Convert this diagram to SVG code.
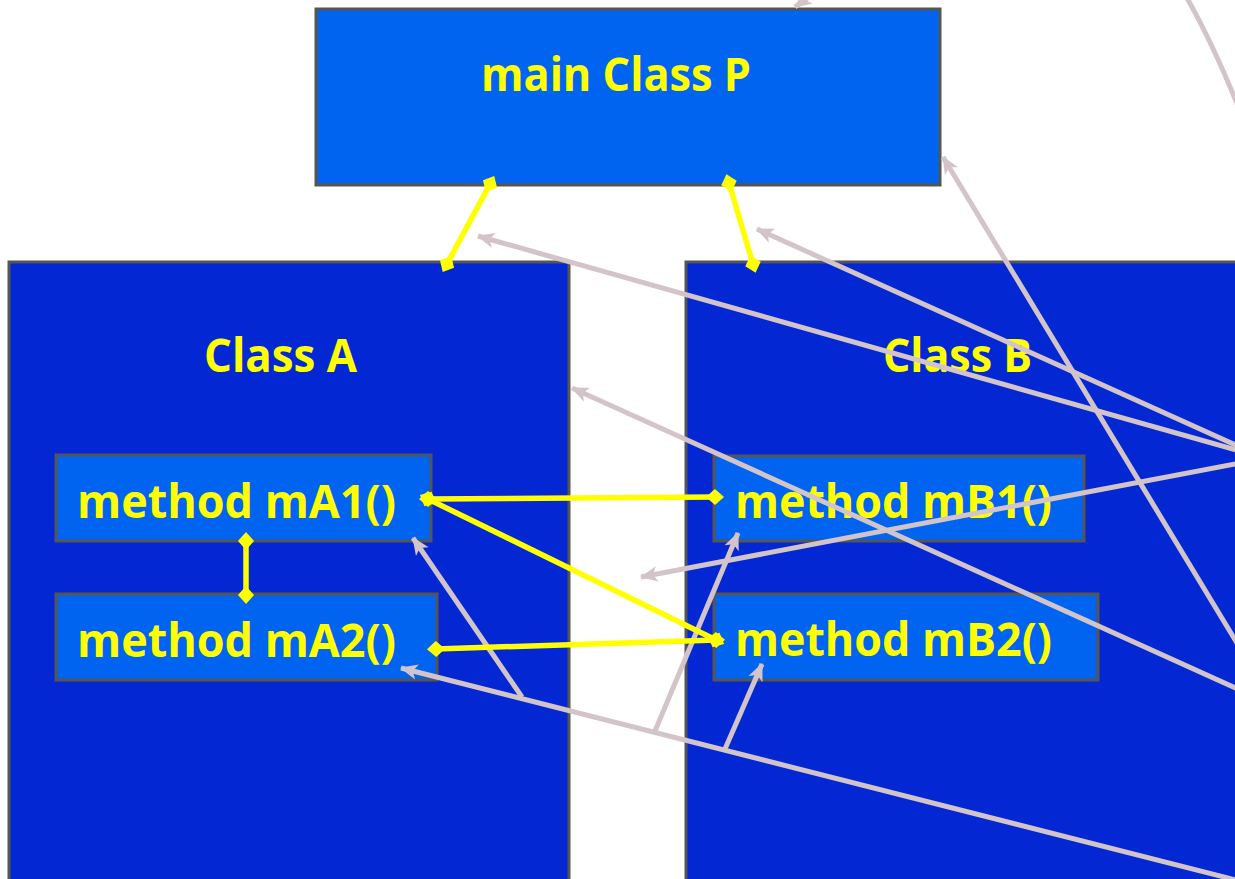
<svg xmlns="http://www.w3.org/2000/svg" width="1235" height="879" viewBox="0 0 1235 879">
  <style>
    .cls { fill: #0328D3; stroke: #555555; stroke-width: 3; }
    .box { fill: #0064F0; stroke: #555555; stroke-width: 3; }
    .lbl { font-family: "Open Sans", "Noto Sans", "Liberation Sans", sans-serif; font-weight: bold; font-size: 47px; fill: #FFFF00; }
    .dep { fill: none; stroke: #D3C4C9; stroke-width: 5; marker-end: url(#arrow); }
    .link { fill: none; stroke: #FFFF00; stroke-width: 5.5; marker-start: url(#dia); marker-end: url(#dia); }
  </style>
  <defs>
    <marker id="arrow" markerUnits="userSpaceOnUse" markerWidth="22" markerHeight="22" viewBox="-17 -9 20 18" refX="0" refY="0" orient="auto">
      <path d="M1,0 L-15,-7 L-11,0 L-15,7 z" fill="#D3C4C9"/>
    </marker>
    <marker id="dia" markerUnits="userSpaceOnUse" markerWidth="24" markerHeight="24" viewBox="-12 -12 24 24" refX="0" refY="0" orient="auto">
      <path d="M-9,0 L0,-8 L9,0 L0,8 z" fill="#FFFF00"/>
    </marker>
  </defs>

  <rect width="1235" height="879" fill="#FFFFFF"/>

  <g id="classP">
    <rect class="box" x="316" y="9" width="624" height="176"/>
    <text class="lbl" x="481" y="91" textLength="270" lengthAdjust="spacingAndGlyphs">main Class P</text>
  </g>

  <g id="classA">
    <rect class="cls" x="9" y="262" width="560" height="640"/>
    <text class="lbl" x="204" y="372" textLength="153" lengthAdjust="spacingAndGlyphs">Class A</text>
  </g>

  <g id="classB">
    <rect class="cls" x="686" y="262" width="600" height="640"/>
    <text class="lbl" x="883" y="372" textLength="149" lengthAdjust="spacingAndGlyphs">Class B</text>
  </g>

  <g id="mA1">
    <rect class="box" x="56" y="455" width="375" height="86"/>
    <text class="lbl" x="77" y="518" textLength="319" lengthAdjust="spacingAndGlyphs">method mA1()</text>
  </g>

  <g id="mA2">
    <rect class="box" x="56" y="594" width="381" height="86"/>
    <text class="lbl" x="77" y="657" textLength="319" lengthAdjust="spacingAndGlyphs">method mA2()</text>
  </g>

  <g id="mB1">
    <rect class="box" x="714" y="456" width="370" height="85"/>
    <text class="lbl" x="735" y="518" textLength="317" lengthAdjust="spacingAndGlyphs">method mB1()</text>
  </g>

  <g id="mB2">
    <rect class="box" x="714" y="594" width="384" height="86"/>
    <text class="lbl" x="735" y="656" textLength="317" lengthAdjust="spacingAndGlyphs">method mB2()</text>
  </g>

  <g id="connectors">
    <!-- dependency arrows -->
    <path class="dep" d="M824,-14 L795,7"/>
    <path d="M1187,-2 Q1212,42 1238,106" fill="none" stroke="#D3C4C9" stroke-width="5"/>
    <path class="dep" d="M1240,648 L943,157"/>
    <path class="dep" d="M1240,451 L478,236"/>
    <path class="dep" d="M1240,447 L757,229"/>
    <path class="dep" d="M1240,463 L641,577"/>
    <path class="dep" d="M1240,690 L572,388"/>
    <path class="dep" d="M1240,881 L401,668"/>
    <path class="dep" d="M522,697 L413,538"/>
    <path class="dep" d="M655,731 L738,533"/>
    <path class="dep" d="M725,749 L762,664"/>
    <!-- associations -->
    <path class="link" d="M490,184 L447,264"/>
    <path class="link" d="M729,183 L753,264"/>
    <path class="link" d="M428,499 L715,497"/>
    <path class="link" d="M428,499 L716,640"/>
    <path class="link" d="M436,649 L716,640"/>
    <path class="link" d="M246,541 L246,595"/>
  </g>
</svg>
